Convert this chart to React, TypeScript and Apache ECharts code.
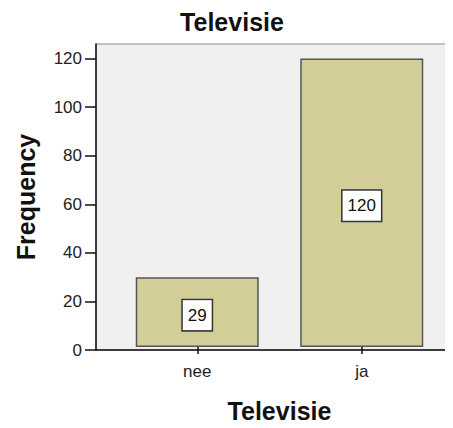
import React, { useEffect, useRef } from "react";
import * as echarts from "echarts";

const chartTitle = "Televisie";
const categories = ["nee", "ja"];
const frequencies = [29, 120];
const yAxisTitle = "Frequency";
const xAxisTitle = "Televisie";
const yMax = 126;
const yInterval = 20;

const FONT = "'Liberation Sans', Arial, sans-serif";

export default function App() {
  const ref = useRef<HTMLDivElement>(null);
  useEffect(() => {
    if (!ref.current) return;
    const chart = echarts.init(ref.current, undefined, { renderer: "svg" });
    chart.setOption({
      animation: false,
      backgroundColor: "#ffffff",
      title: {
        text: chartTitle,
        left: 232,
        top: 9,
        padding: 0,
        textAlign: "center",
        textStyle: { fontFamily: FONT, fontWeight: "bold", fontSize: 25, color: "#111" },
      },
      grid: [
        {
          left: 96,
          right: -9,
          top: 44,
          bottom: 78,
          show: true,
          backgroundColor: "#f0f0f0",
          borderColor: "#8a8a8a",
          borderWidth: 1,
        },
        { left: 115, right: 9, top: 44, bottom: 78 },
      ],
      xAxis: [
        {
          gridIndex: 0,
          type: "value",
          min: 0,
          max: 1,
          axisLine: { show: true, lineStyle: { color: "#111", width: 1.5 } },
          axisTick: { show: false },
          axisLabel: { show: false },
          splitLine: { show: false },
        },
        {
          gridIndex: 1,
          type: "category",
          data: categories,
          axisLine: { show: false },
          axisTick: { show: true, alignWithLabel: true, length: 7, lineStyle: { color: "#111", width: 1.5 } },
          axisLabel: { fontFamily: FONT, fontSize: 17, color: "#222", margin: 16 },
          name: xAxisTitle,
          nameLocation: "middle",
          nameGap: 51,
          nameTextStyle: { fontFamily: FONT, fontWeight: "bold", fontSize: 25, color: "#111" },
        },
      ],
      yAxis: [
        {
          gridIndex: 0,
          type: "value",
          min: 0,
          max: yMax,
          interval: yInterval,
          axisLine: { show: true, lineStyle: { color: "#111", width: 1.5 } },
          axisTick: { show: true, length: 11, lineStyle: { color: "#111", width: 1.5 } },
          axisLabel: {
            fontFamily: FONT,
            fontSize: 17,
            color: "#222",
            margin: 14,
            showMaxLabel: false,
            formatter: (v: number) => (v % yInterval === 0 ? String(v) : ""),
          },
          splitLine: { show: false },
          name: yAxisTitle,
          nameLocation: "middle",
          nameGap: 58,
          nameTextStyle: { fontFamily: FONT, fontWeight: "bold", fontSize: 25, color: "#111" },
        },
        {
          gridIndex: 1,
          type: "value",
          min: 0,
          max: yMax,
          show: false,
        },
      ],
      series: [
        {
          type: "bar",
          xAxisIndex: 1,
          yAxisIndex: 1,
          data: frequencies,
          barWidth: 123,
          itemStyle: { color: "#d3ce97", borderColor: "#555", borderWidth: 1.5 },
          label: {
            show: true,
            position: "inside",
            offset: [0, 3],
            fontFamily: FONT,
            fontSize: 17,
            lineHeight: 17,
            color: "#111",
            backgroundColor: "#ffffff",
            borderColor: "#333",
            borderWidth: 1.5,
            padding: [7, 5, 6, 5],
          },
        },
      ],
    });
    return () => chart.dispose();
  }, []);
  return <div ref={ref} style={{ width: 453, height: 428, margin: -8 }} />;
}
